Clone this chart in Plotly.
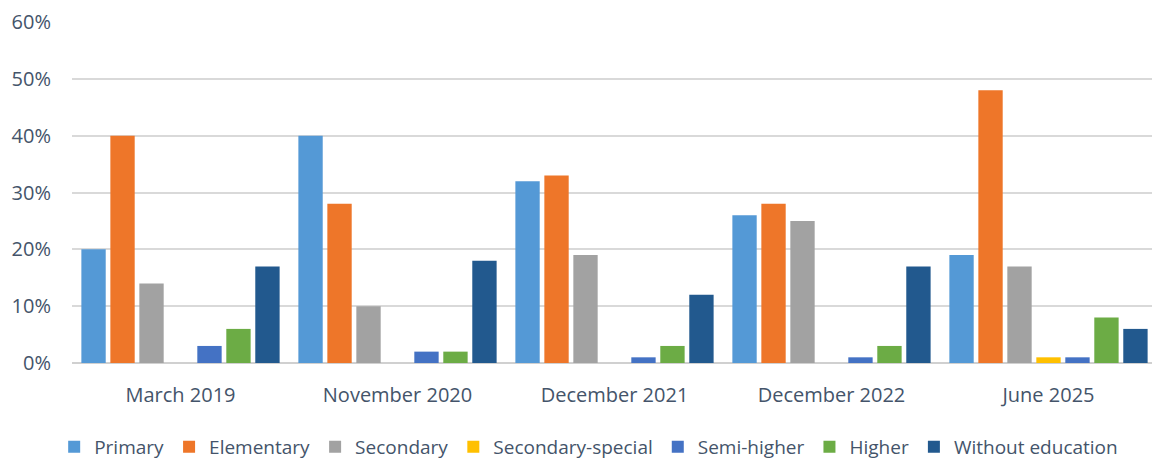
import plotly.graph_objects as go

categories = ["March 2019", "November 2020", "December 2021", "December 2022", "June 2025"]

primary = [20, 40, 32, 26, 19]
elementary = [40, 28, 33, 28, 48]
secondary = [14, 10, 19, 25, 17]
secondary_special = [0, 0, 0, 0, 1]
semi_higher = [3, 2, 1, 1, 1]
higher = [6, 2, 3, 3, 8]
without_education = [17, 18, 12, 17, 6]

series_names = ["Primary", "Elementary", "Secondary", "Secondary-special",
                "Semi-higher", "Higher", "Without education"]
series_values = [primary, elementary, secondary, secondary_special,
                 semi_higher, higher, without_education]
series_colors = ["#5499D6", "#EE7629", "#A2A2A2", "#FFC000",
                 "#4472C4", "#6CAC45", "#22598E"]

TEXT = "#44546A"
FONT = "Open Sans"

fig = go.Figure()
for name, vals, col in zip(series_names, series_values, series_colors):
    fig.add_trace(go.Bar(
        x=list(range(len(categories))),
        y=[v / 100 for v in vals],
        name=name,
        marker=dict(color=col, line=dict(width=0)),
    ))

fig.update_layout(
    width=1152, height=461,
    margin=dict(l=72, r=0, t=22, b=98),
    paper_bgcolor="white",
    plot_bgcolor="white",
    barmode="group",
    bargap=0.065,
    bargroupgap=0.16,
    font=dict(family=FONT, color=TEXT),
    xaxis=dict(
        tickmode="array",
        tickvals=list(range(len(categories))),
        ticktext=categories,
        range=[-0.5, 4.477],
        showgrid=False,
        zeroline=False,
        showline=False,
        ticks="",
        tickfont=dict(size=20, family=FONT, color=TEXT),
        ticklabelstandoff=18,
    ),
    yaxis=dict(
        range=[0, 0.6],
        dtick=0.1,
        tickformat=".0%",
        showgrid=True,
        gridcolor="#D9D9D9",
        gridwidth=1.5,
        zeroline=True,
        zerolinecolor="#D0D0D0",
        zerolinewidth=2,
        showline=False,
        ticks="",
        tickfont=dict(size=20, family=FONT, color=TEXT),
        ticklabelstandoff=20,
    ),
    legend=dict(
        orientation="h",
        xref="container", yref="container",
        x=0.511, xanchor="center",
        y=14 / 461, yanchor="middle",
        font=dict(size=19, family=FONT, color=TEXT),
        itemwidth=30,
        tracegroupgap=0,
    ),
)

fig.write_html("out.html")
